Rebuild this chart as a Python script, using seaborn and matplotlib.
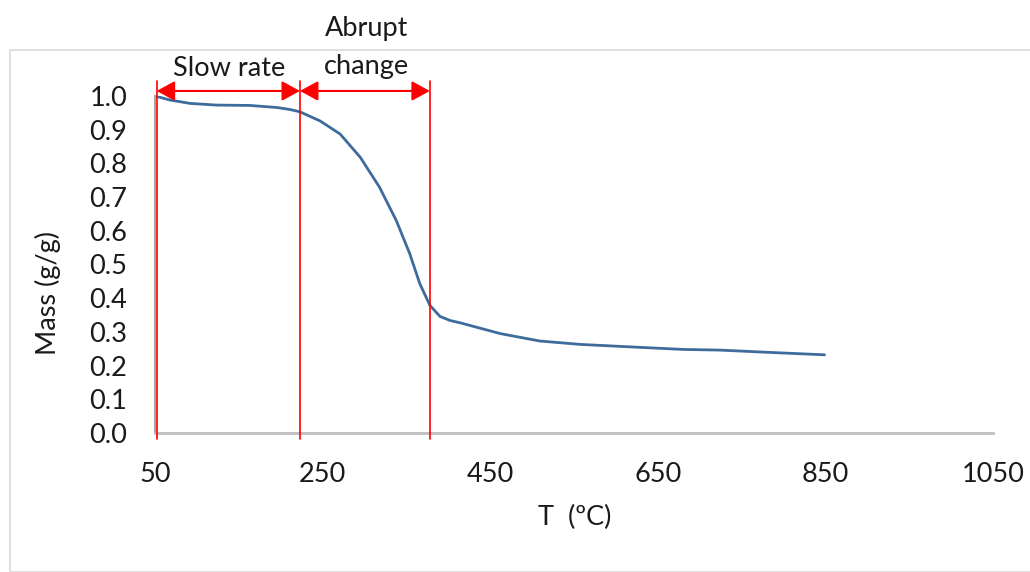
import matplotlib
matplotlib.use("Agg")
import matplotlib.pyplot as plt
import matplotlib.patches as mpatches
import seaborn as sns
import pandas as pd

# ---- data ----
temperature = [50, 68, 92, 124, 163, 195, 211, 223, 247, 271, 295, 318, 338,
               354, 366, 378, 390, 402, 414, 462, 509, 557, 605, 680, 724, 776, 849]
mass = [1.000, 0.988, 0.978, 0.973, 0.972, 0.966, 0.960, 0.953, 0.926, 0.887,
        0.818, 0.729, 0.630, 0.532, 0.443, 0.379, 0.346, 0.334, 0.327, 0.295,
        0.273, 0.263, 0.257, 0.248, 0.246, 0.240, 0.232]
x_ticks = [50, 250, 450, 650, 850, 1050]
y_ticks = [0.0, 0.1, 0.2, 0.3, 0.4, 0.5, 0.6, 0.7, 0.8, 0.9, 1.0]
region_bounds = [52, 223, 378]
region_labels = ["Slow rate", "Abrupt", "change"]

sns.set_theme(style="white")
plt.rcParams["font.family"] = ["Lato", "DejaVu Sans"]

W, H = 1030, 572
FS = 19.5
TXT = "#1a1a1a"
fig = plt.figure(figsize=(W / 100, H / 100), dpi=100)
fig.patch.set_facecolor("white")

# outer chart frame (Excel chart area)
frame = mpatches.Rectangle((10 / W, 0), 1.2, 1 - 50 / H, transform=fig.transFigure,
                           fill=False, edgecolor="#D9D9D9", linewidth=1.2, clip_on=False)
fig.patches.append(frame)

ax = fig.add_axes([155 / W, (H - 433) / H, (993 - 155) / W, (433 - 96) / H])
ax.set_facecolor("none")

df = pd.DataFrame({"T": temperature, "Mass": mass})
sns.lineplot(data=df, x="T", y="Mass", ax=ax, color="#3D6C9C", linewidth=2.0,
             sort=False, estimator=None)

ax.set_xlim(50, 1050)
ax.set_ylim(0, 1.0)
ax.set_xticks(x_ticks)
ax.set_xticklabels([str(v) for v in x_ticks])
ax.set_yticks(y_ticks)
ax.set_yticklabels([f"{v:.1f}" for v in y_ticks])
ax.tick_params(axis="x", length=0, pad=21, labelsize=FS, colors=TXT)
ax.tick_params(axis="y", length=0, pad=20, labelsize=FS, colors=TXT)

for s in ["top", "right"]:
    ax.spines[s].set_visible(False)
ax.spines["left"].set_color("#A6A6A6")
ax.spines["left"].set_linewidth(1.5)
ax.spines["bottom"].set_color("#BFBFBF")
ax.spines["bottom"].set_linewidth(2.0)
ax.set_xlabel("")
ax.set_ylabel("")
ax.set_zorder(2)

# red region lines
for b in region_bounds:
    ax.plot([b, b], [-0.018, 1.044], color="#FF0000", linewidth=1.2,
            clip_on=False, zorder=5)

# double-headed arrows
for a, b in zip(region_bounds[:-1], region_bounds[1:]):
    ax.annotate("", xy=(a, 1.015), xytext=(b, 1.015), annotation_clip=False,
                arrowprops=dict(arrowstyle="<|-|>,head_length=11,head_width=6",
                                mutation_scale=1, color="#FF0000", lw=1.5,
                                shrinkA=0, shrinkB=0))

ax.text(138, 1.083, region_labels[0], ha="center", va="center", fontsize=FS,
        color=TXT, clip_on=False)
ax.text(302, 1.201, region_labels[1], ha="center", va="center", fontsize=FS,
        color=TXT, clip_on=False)
ax.text(302, 1.089, region_labels[2], ha="center", va="center", fontsize=FS,
        color=TXT, clip_on=False)

fig.text(575 / W, 1 - 517 / H, "T  (ºC)", ha="center", va="center", fontsize=FS,
         color=TXT)
fig.text(48 / W, 1 - 293 / H, "Mass (g/g)", ha="center", va="center", fontsize=FS,
         rotation=90, color=TXT)

fig.savefig("out.png", dpi=100, facecolor="white")
